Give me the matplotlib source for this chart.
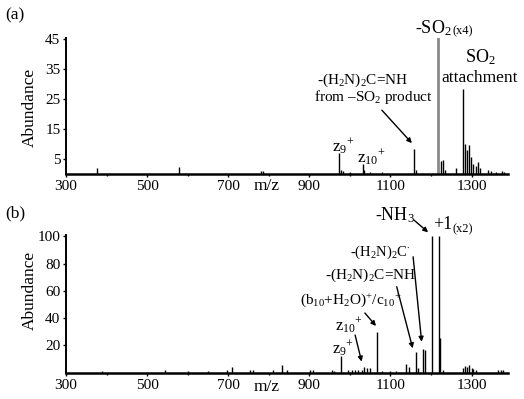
import matplotlib
matplotlib.use("Agg")
import matplotlib.pyplot as plt
from matplotlib.ticker import MultipleLocator

plt.rcParams['font.family'] = ['Liberation Serif', 'DejaVu Serif']
plt.rcParams['mathtext.fontset'] = 'custom'
plt.rcParams['mathtext.rm'] = 'Liberation Serif'
plt.rcParams['mathtext.it'] = 'Liberation Serif:italic'
plt.rcParams['mathtext.bf'] = 'Liberation Serif:bold'

# ---- data: panel (a) ----
mz_a = [376, 579, 780, 786, 974, 979, 984, 1000, 1033, 1036, 1050, 1080,
        1159, 1163, 1224, 1229, 1234, 1262, 1280, 1284, 1290, 1294, 1299,
        1304, 1310, 1315, 1321, 1341, 1349, 1361, 1374, 1380]
ab_a = [2.0, 2.5, 1.0, 1.0, 7.0, 1.5, 1.0, 0.6, 3.3, 1.5, 0.6, 0.6,
        8.5, 1.2, 4.4, 4.7, 1.5, 1.9, 28.5, 10.0, 8.0, 9.6, 5.8,
        3.3, 2.8, 4.1, 2.0, 1.2, 1.0, 0.8, 1.0, 0.7]
# scaled (x4) -SO2 peak, drawn in grey
mz_a_scaled = [1218]
ab_a_scaled = [46]

# ---- data: panel (b) ----
mz_b = [388, 544, 601, 650, 696, 709, 754, 761, 811, 832, 844, 902, 909,
        955, 962, 978, 995, 1005, 1012, 1020, 1029, 1036, 1043, 1050, 1066,
        1080, 1100, 1115, 1138, 1147, 1163, 1169, 1180, 1186, 1202, 1220,
        1223, 1230, 1280, 1285, 1290, 1295, 1300, 1304, 1310, 1366, 1372,
        1378]
ab_b = [1.0, 1.5, 1.0, 0.8, 2.0, 3.7, 2.0, 2.0, 2.0, 5.4, 1.5, 1.5, 1.5,
        1.5, 1.2, 12.3, 1.5, 2.0, 1.5, 2.0, 1.5, 4.2, 3.5, 3.5, 30.0,
        1.0, 1.0, 1.0, 6.1, 4.0, 14.7, 3.0, 17.2, 16.5, 100.0, 100.0,
        25.0, 2.0, 3.6, 4.9, 4.2, 5.2, 3.5, 2.5, 1.5, 2.0, 1.5,
        2.0]

xticks = [300, 500, 700, 900, 1100, 1300]
xtick_labels = ['300', '500', '700', '900', '1100', '1300']
yticks_a = [5, 15, 25, 35, 45]
yticks_b = [20, 40, 60, 80, 100]

W, H = 524, 399
fig = plt.figure(figsize=(W / 100, H / 100), dpi=100)

def px_axes(left, right, top, bottom):
    return fig.add_axes([left / W, 1 - bottom / H, (right - left) / W, (bottom - top) / H])

ax_a = px_axes(66, 508, 37.7, 174)
ax_b = px_axes(66, 508, 235, 372.5)

def style(ax, yticks, ylim):
    ax.set_xlim(300, 1390)
    ax.set_ylim(*ylim)
    for s in ['top', 'right']:
        ax.spines[s].set_visible(False)
    ax.spines['bottom'].set_linewidth(1.8)
    ax.spines['left'].set_linewidth(1.4)
    ax.set_xticks(xticks)
    ax.set_xticklabels(xtick_labels)
    ax.xaxis.set_minor_locator(MultipleLocator(100))
    ax.set_yticks(yticks)
    ax.tick_params(axis='both', which='major', direction='out', length=2.5,
                   width=1, labelsize=11, pad=1.5)
    ax.tick_params(axis='x', which='minor', direction='out', length=1.5, width=1)
    ax.tick_params(axis='x', which='major', pad=2)

style(ax_a, yticks_a, (0, 45.5))
style(ax_b, yticks_b, (0, 101))

ax_a.vlines(mz_a, 0, ab_a, color='black', lw=1.0)
ax_a.vlines(mz_a_scaled, 0, ab_a_scaled, color='#8a8a8a', lw=2.0, clip_on=True)
ax_b.vlines(mz_b, 0, ab_b, color='black', lw=1.0)

arrow = dict(arrowstyle='-|>', color='black', lw=1.0, mutation_scale=7, shrinkA=0, shrinkB=0)

# ---- panel (a) annotations ----
ax_a.text(1205, 48.7, r'-SO$_2$', fontsize=13, ha='center', va='center', clip_on=False)
ax_a.text(1279, 47.6, '(x4)', fontsize=9, ha='center', va='center', clip_on=False)
ax_a.text(1323, 39, r'SO$_2$', fontsize=13, ha='center', va='center')
ax_a.text(1321, 32, 'attachment', fontsize=12.5, ha='center', va='center')
ax_a.text(1032, 31.3, r'-(H$_2$N)$_2$C=NH', fontsize=11, ha='center', va='center')
ax_a.text(1057, 25.7, r'from –SO$_2$ product', fontsize=11, ha='center', va='center')
ax_a.annotate('', xy=(1153, 10.3), xytext=(1079, 21.3), arrowprops=arrow)
ax_a.text(956, 9.0, r'z$_{9}{}^{+}$', fontsize=12.5, ha='left', va='center')
ax_a.text(1018, 5.3, r'z$_{10}{}^{+}$', fontsize=12.5, ha='left', va='center')

# ---- panel (b) annotations ----
ax_b.text(1111, 115.7, r'-NH$_3$', fontsize=13, ha='center', va='center', clip_on=False)
ax_b.annotate('', xy=(1193, 103), xytext=(1158, 112), arrowprops=arrow, annotation_clip=False)
ax_b.text(1230, 108.4, '+1', fontsize=13, ha='center', va='center', clip_on=False)
ax_b.text(1279, 105.0, '(x2)', fontsize=9, ha='center', va='center', clip_on=False)
ax_b.text(1074, 88.5, r'-(H$_2$N)$_2$C$^{\bullet}$', fontsize=10.5, ha='center', va='center')
ax_b.annotate('', xy=(1177, 22.6), xytext=(1156, 85), arrowprops=arrow)
ax_b.text(1050, 71.6, r'-(H$_2$N)$_2$C=NH', fontsize=11, ha='center', va='center')
ax_b.annotate('', xy=(1155, 17.8), xytext=(1115.5, 63), arrowprops=arrow)
ax_b.text(1003, 53.3, r'(b$_{10}$+H$_2$O)$^{+}$/c$_{10}{}^{+}$', fontsize=11, ha='center', va='center')
ax_b.annotate('', xy=(1064.5, 34.2), xytext=(1037, 43.7), arrowprops=arrow)
ax_b.text(963, 34, r'z$_{10}{}^{+}$', fontsize=12, ha='left', va='center')
ax_b.annotate('', xy=(1029, 8), xytext=(1013, 27.5), arrowprops=arrow)
ax_b.text(956, 17.5, r'z$_{9}{}^{+}$', fontsize=12, ha='left', va='center')

# axis labels
ax_a.text(795, -0.085, 'm/z', fontsize=12.5, ha='center', va='center',
          transform=ax_a.get_xaxis_transform())
ax_b.text(795, -0.105, 'm/z', fontsize=12.5, ha='center', va='center',
          transform=ax_b.get_xaxis_transform())
fig.text(30 / W, 1 - 107 / H, 'Abundance', fontsize=12.5, rotation=90, ha='center', va='center')
fig.text(30 / W, 1 - 290 / H, 'Abundance', fontsize=12.5, rotation=90, ha='center', va='center')
fig.text(5 / W, 1 - 15 / H, '(a)', fontsize=12.5, ha='left', va='center')
fig.text(5 / W, 1 - 213 / H, '(b)', fontsize=12.5, ha='left', va='center')

fig.savefig('out.png', dpi=100)
